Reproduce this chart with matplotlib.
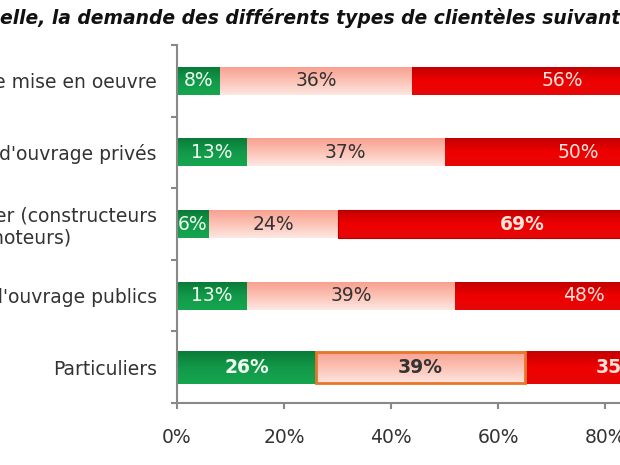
import numpy as np
import matplotlib
matplotlib.use("Agg")
from matplotlib import pyplot as plt
from matplotlib.colors import LinearSegmentedColormap

# data (top to bottom)
categories = ["Entreprises de mise en oeuvre",
              "Maîtres d'ouvrage privés",
              "Habitat particulier (constructeurs\net promoteurs)",
              "Maîtres d'ouvrage publics",
              "Particuliers"]
en_hausse = [8, 13, 6, 13, 26]
stable = [36, 37, 24, 39, 39]
en_baisse = [56, 50, 69, 48, 35]
xticks = [0, 20, 40, 60, 80, 100]
xtick_labels = ["0%", "20%", "40%", "60%", "80%", "100%"]

title_prefix = "Par rapport à votre activité habitu"
title_rest = "elle, la demande des différents types de clientèles suivantes est-elle :"

plt.rcParams['font.family'] = ['DejaVu Sans']

fig = plt.figure(figsize=(6.2, 4.65), dpi=100)
fig.patch.set_facecolor("white")
# axes runs past the right edge, like the cropped original
ax = fig.add_axes([177 / 620, 62 / 465, 535 / 620, 358 / 465])

cmaps = [
    LinearSegmentedColormap.from_list("g", ["#16a64f", "#12994a", "#0a7c37"]),
    LinearSegmentedColormap.from_list("s", ["#fde7e2", "#fcc3b6", "#f8a090"]),
    LinearSegmentedColormap.from_list("r", ["#e40808", "#f00000", "#c20000"]),
]
txt_colors = ["#f0fff0", "#333333", "#ffe2dc"]
grad = np.linspace(0, 1, 64).reshape(-1, 1)

n = len(categories)
ypos = [n - 1 - i for i in range(n)]
heights = [0.39, 0.39, 0.39, 0.39, 0.46]

series = [en_hausse, stable, en_baisse]
for i in range(n):
    left = 0
    yc = ypos[i]
    h = heights[i]
    for k, vals in enumerate(series):
        v = vals[i]
        bar = ax.barh(yc, v, left=left, height=h, color=cmaps[k](0.5),
                      edgecolor="none", zorder=2)[0]
        im = ax.imshow(grad, extent=(left, left + v, yc - h / 2, yc + h / 2),
                       origin="lower", aspect="auto", cmap=cmaps[k],
                       interpolation="bilinear", zorder=2.5)
        im.set_clip_path(bar)
        bold = (i == n - 1) or (v == max(en_baisse) and k == 2)
        ax.text(left + v / 2, yc, "%d%%" % v, ha="center", va="center",
                fontsize=13.5, color=txt_colors[k],
                fontweight="bold" if bold else "normal", zorder=4)
        if i == n - 1 and k == 1:
            ax.barh(yc, v, left=left, height=h - 0.03, color="none",
                    edgecolor="#e8762d", linewidth=2, zorder=3)
        if k == 2 and v == max(en_baisse):
            ax.barh(yc, v, left=left, height=h, color="none",
                    edgecolor="#b80000", linewidth=0.8, zorder=3)
        left += v

ax.set_xlim(0, 100)
ax.set_ylim(-0.5, n - 0.5)
ax.set_yticks(ypos)
ax.set_yticklabels(categories, fontsize=13.5, color="#333333",
                   multialignment="center")
ax.set_yticks(np.arange(-0.5, n, 1.0), minor=True)
ax.tick_params(axis="y", which="major", length=0, pad=14.4)
ax.tick_params(axis="y", which="minor", length=4, width=1.5, color="#888888")
ax.set_xticks(xticks)
ax.set_xticklabels(xtick_labels, fontsize=13.5, color="#333333")
ax.tick_params(axis="x", length=4, width=1.5, color="#888888", pad=14)

for s in ["top", "right"]:
    ax.spines[s].set_visible(False)
for s in ["left", "bottom"]:
    ax.spines[s].set_color("#888888")
    ax.spines[s].set_linewidth(1.5)

# title, shifted so the visible part starts at the left edge
r = fig.canvas.get_renderer()
t0 = fig.text(0, 0, title_prefix, fontsize=13.5, fontweight="bold", style="italic")
w = t0.get_window_extent(r).width
t0.remove()
fig.text(-w / 620, 1 - 18 / 465, title_prefix + title_rest, fontsize=13.5,
         fontweight="bold", style="italic", color="#111111",
         ha="left", va="center")

fig.savefig("out.png", dpi=100)
